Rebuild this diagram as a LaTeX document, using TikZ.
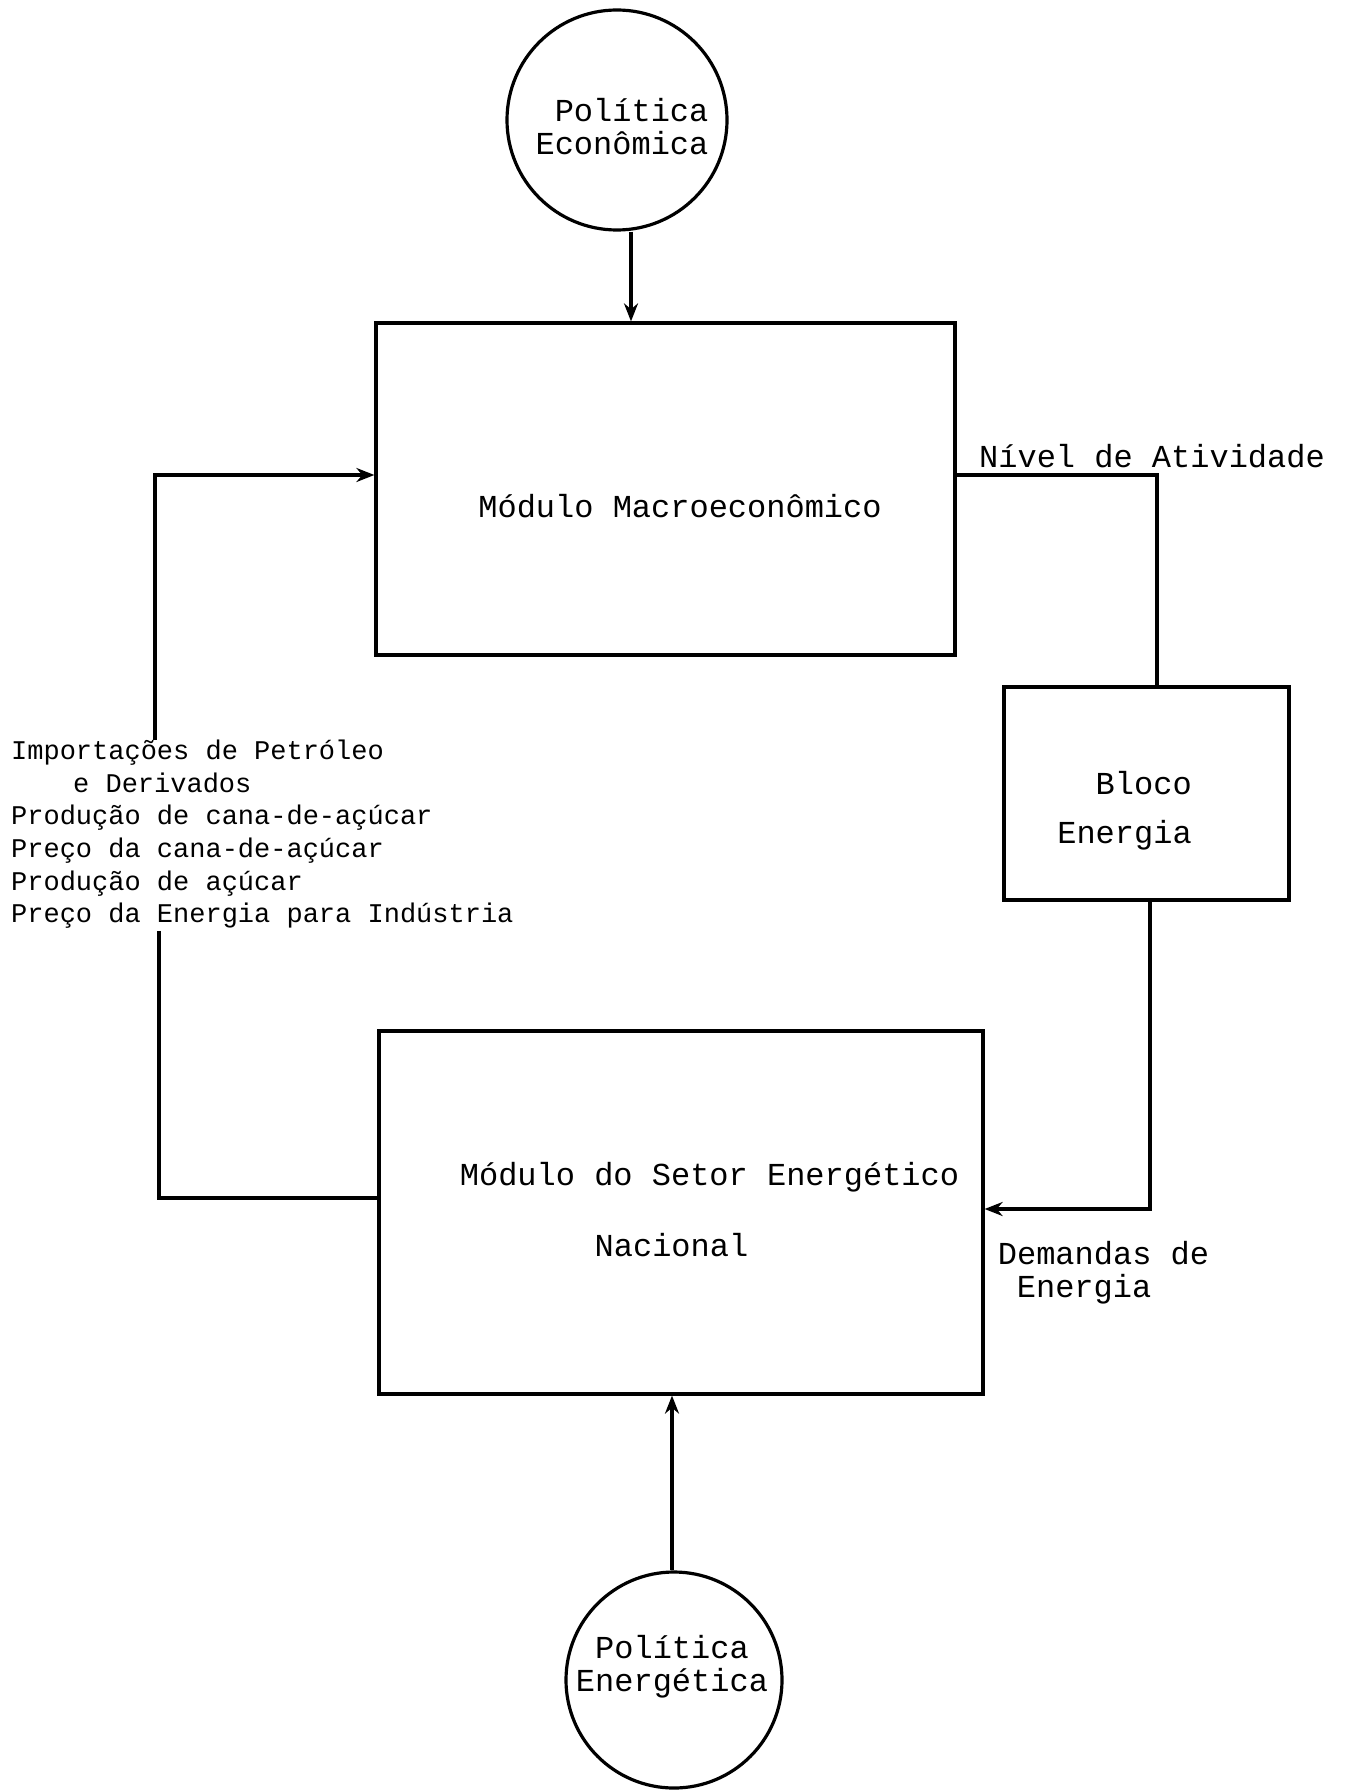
\documentclass[tikz,border=0pt]{standalone}
\usepackage{fontspec}
\newfontfamily\tw{Liberation Mono}
\usetikzlibrary{arrows.meta,calc}
\begin{document}
\begin{tikzpicture}[x=1pt,y=-1pt,
  lw/.style={line width=3.2pt},
  boxnode/.style={draw,lw,rectangle,inner sep=0pt},
  circnode/.style={draw,lw,circle,inner sep=0pt},
  conn/.style={lw,line cap=butt},
  arr/.style={conn,-{Stealth[length=18pt,width=14pt]}},
  bigtxt/.style={inner sep=0pt,font=\tw\fontsize{32pt}{33pt}\selectfont},
  smalltxt/.style={inner sep=0pt,font=\tw\fontsize{27pt}{32.6pt}\selectfont}]
\useasboundingbox (0,0) rectangle (1345,1790);
% shapes
\node[circnode,minimum size=220pt] (pe) at (617,120) {};
\node[boxnode,minimum width=579pt,minimum height=332pt] (macro) at (665.5,489) {};
\node[boxnode,minimum width=285pt,minimum height=213pt] (bloco) at (1146.5,793.5) {};
\node[boxnode,minimum width=604pt,minimum height=363pt] (setor) at (681,1212.5) {};
\node[circnode,minimum size=216pt] (pen) at (674,1680) {};
% texts
\node[bigtxt,align=right] (pet) at (622,127) {Política\\Econômica};
\node[bigtxt] (macrot) at (680,506) {Módulo Macroeconômico};
\node[bigtxt] (nivel) at (1152,456) {Nível de Atividade};
\node[bigtxt,align=right] (blocot) at (1124.5,810.5) {Bloco\\[16pt]Energia};
\node[bigtxt] (setort) at (709.5,1177) {Módulo do Setor Energético};
\node[bigtxt] (nact) at (671.5,1245) {Nacional};
\node[bigtxt,align=left] (dem) at (1103.5,1273) {Demandas de\\\hspace*{19pt}Energia};
\node[bigtxt,align=center] (pent) at (672,1667) {Política\\Energética};
\node[smalltxt,align=left,anchor=north west] (imp) at (11,740) {Importações de Petróleo\\\hspace*{62pt}e Derivados\\Produção de cana-de-açúcar\\Preço da cana-de-açúcar\\Produção de açúcar\\Preço da Energia para Indústria};
% helper coordinates
\coordinate (xa) at (631,0);
\coordinate (xl) at (155,0);
\coordinate (xl2) at (159,0);
\coordinate (yl) at (0,475);
\coordinate (yb) at (0,1198);
\coordinate (xn) at (1157,0);
\coordinate (xd) at (1150,0);
\coordinate (yd) at (0,1209);
\coordinate (xb) at (672,0);
% connectors
\draw[arr] (xa |- pe.south) -- (xa |- macro.north);
\draw[arr] (xl |- imp.north) |- (macro.west |- yl);
\draw[conn] ($(xl2 |- imp.south)+(0,2)$) |- (setor.west |- yb);
\draw[conn] (macro.east |- yl) -| (xn |- bloco.north);
\draw[arr] (xd |- bloco.south) |- (setor.east |- yd);
\draw[arr] (xb |- pen.north) -- (xb |- setor.south);
\end{tikzpicture}
\end{document}
